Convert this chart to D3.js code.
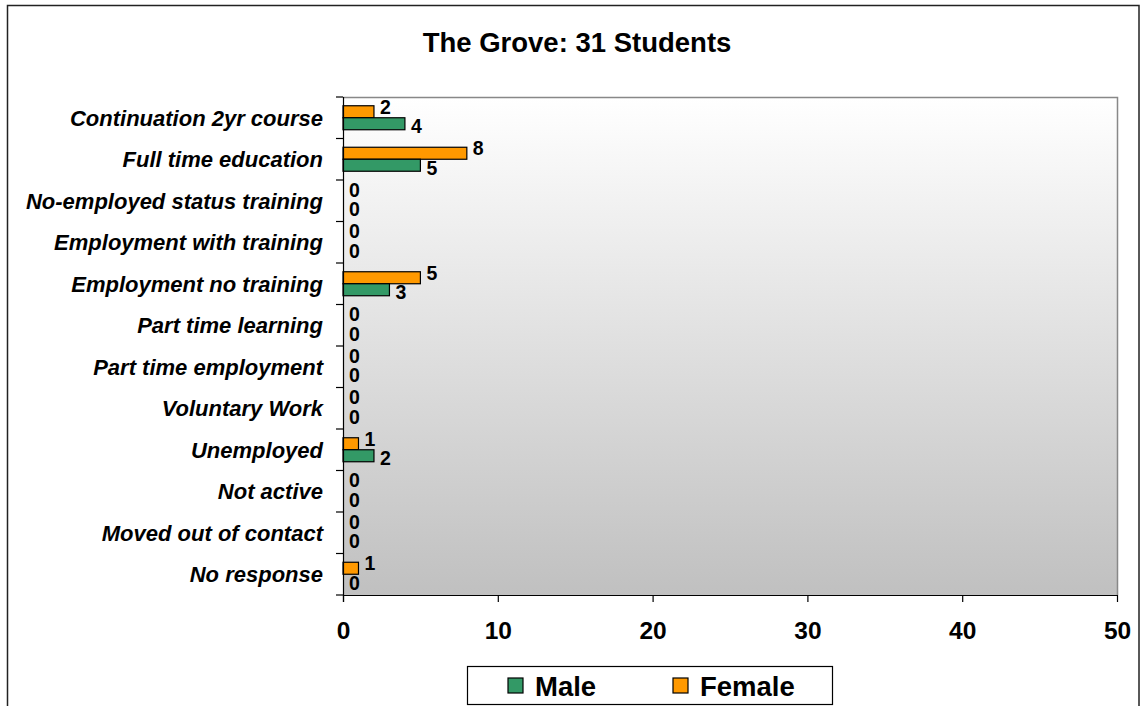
<!DOCTYPE html>
<html><head><meta charset="utf-8">
<script src="https://cdn.jsdelivr.net/npm/d3@7"></script>
<style>body{margin:0;background:#fff;} svg{display:block;font-family:"Liberation Sans",Arial,sans-serif;}</style>
</head><body>
<svg id="c" width="1141" height="706"></svg>
<script>
const categories = ["Continuation 2yr course","Full time education","No-employed status training","Employment with training","Employment no training","Part time learning","Part time employment","Voluntary Work","Unemployed","Not active","Moved out of contact","No response"];
const male   = [4,5,0,0,3,0,0,0,2,0,0,0];
const female = [2,8,0,0,5,0,0,0,1,0,0,1];
const xTicks = [0,10,20,30,40,50];
const seriesNames = ["Male","Female"];
const colors = {Male:"#339966", Female:"#FF9900"};

const svg = d3.select("#c");
const L=343, R=1117, T=97, B=595;
const x = d3.scaleLinear().domain([0,50]).range([L,R]);
const y = d3.scaleBand().domain(categories).range([T,B]);
const barH = 12;

// outer border
svg.append("rect").attr("x",7.5).attr("y",5.5).attr("width",1131.5).attr("height",720)
  .attr("fill","#fff").attr("stroke","#222").attr("stroke-width",1.5);

// gradient
const defs = svg.append("defs");
const g = defs.append("linearGradient").attr("id","bg").attr("x1",0).attr("y1",0).attr("x2",0).attr("y2",1);
g.append("stop").attr("offset","0%").attr("stop-color","#ffffff");
g.append("stop").attr("offset","100%").attr("stop-color","#c0c0c0");
svg.append("rect").attr("x",L).attr("y",T).attr("width",R-L).attr("height",B-T).attr("fill","url(#bg)");
svg.append("path").attr("d",`M${L},${T+0.5}H${R+0.5}V${B}`).attr("fill","none").attr("stroke","#888").attr("stroke-width",1.5);

// title
svg.append("text").attr("x",577).attr("y",52).attr("text-anchor","middle")
  .attr("font-size",27.5).attr("font-weight","bold").text("The Grove: 31 Students");

// bars
const rows = categories.map((c,i)=>({c, m:male[i], f:female[i]}));
const grp = svg.append("g");
rows.forEach(d=>{
  const cy = y(d.c)+y.bandwidth()/2;
  if(d.f>0) grp.append("rect").attr("x",x(0)).attr("y",cy-barH).attr("width",x(d.f)-x(0)).attr("height",barH)
    .attr("fill",colors.Female).attr("stroke","#000").attr("stroke-width",1.2);
  if(d.m>0) grp.append("rect").attr("x",x(0)).attr("y",cy).attr("width",x(d.m)-x(0)).attr("height",barH)
    .attr("fill",colors.Male).attr("stroke","#000").attr("stroke-width",1.2);
  grp.append("text").attr("x",x(d.f)+6).attr("y",cy-11).attr("dy","0.36em")
    .attr("font-size",19.5).attr("font-weight","bold").text(d.f);
  grp.append("text").attr("x",x(d.m)+6).attr("y",cy+8.5).attr("dy","0.36em")
    .attr("font-size",19.5).attr("font-weight","bold").text(d.m);
});

// y axis
const yAxisG = svg.append("g");
yAxisG.append("line").attr("x1",L+0.5).attr("x2",L+0.5).attr("y1",T).attr("y2",B+7).attr("stroke","#000").attr("stroke-width",1.2);
const bounds = categories.map(c=>y(c)).concat([B]);
bounds.forEach(b=>{
  yAxisG.append("line").attr("x1",L-7).attr("x2",L).attr("y1",b).attr("y2",b).attr("stroke","#000").attr("stroke-width",1.2);
});
categories.forEach(c=>{
  yAxisG.append("text").attr("x",323).attr("y",y(c)+y.bandwidth()/2).attr("dy","0.36em")
    .attr("text-anchor","end").attr("font-size",22).attr("font-weight","bold").attr("font-style","italic").text(c);
});

// x axis
const xa = svg.append("g").attr("transform",`translate(0,${B})`)
  .call(d3.axisBottom(x).tickValues(xTicks).tickSize(7).tickPadding(20).tickSizeOuter(0));
xa.select(".domain").attr("stroke","#000").attr("stroke-width",1.2);
xa.selectAll(".tick line").attr("stroke","#000").attr("stroke-width",1.2);
xa.selectAll("text").attr("font-size",24.5).attr("font-weight","bold").attr("fill","#000")
  .attr("font-family","Liberation Sans, Arial, sans-serif");

// legend
const lg = svg.append("g");
lg.append("rect").attr("x",467.5).attr("y",666.5).attr("width",365).attr("height",38).attr("fill","#fff").attr("stroke","#000").attr("stroke-width",1.2);
const lx = [508,673];
seriesNames.forEach((s,i)=>{
  lg.append("rect").attr("x",lx[i]).attr("y",678).attr("width",15).attr("height",15)
    .attr("fill",colors[s]).attr("stroke","#000").attr("stroke-width",1.2);
  lg.append("text").attr("x",lx[i]+27).attr("y",696).attr("font-size",27.5).attr("font-weight","bold").text(s);
});
</script>
</body></html>
